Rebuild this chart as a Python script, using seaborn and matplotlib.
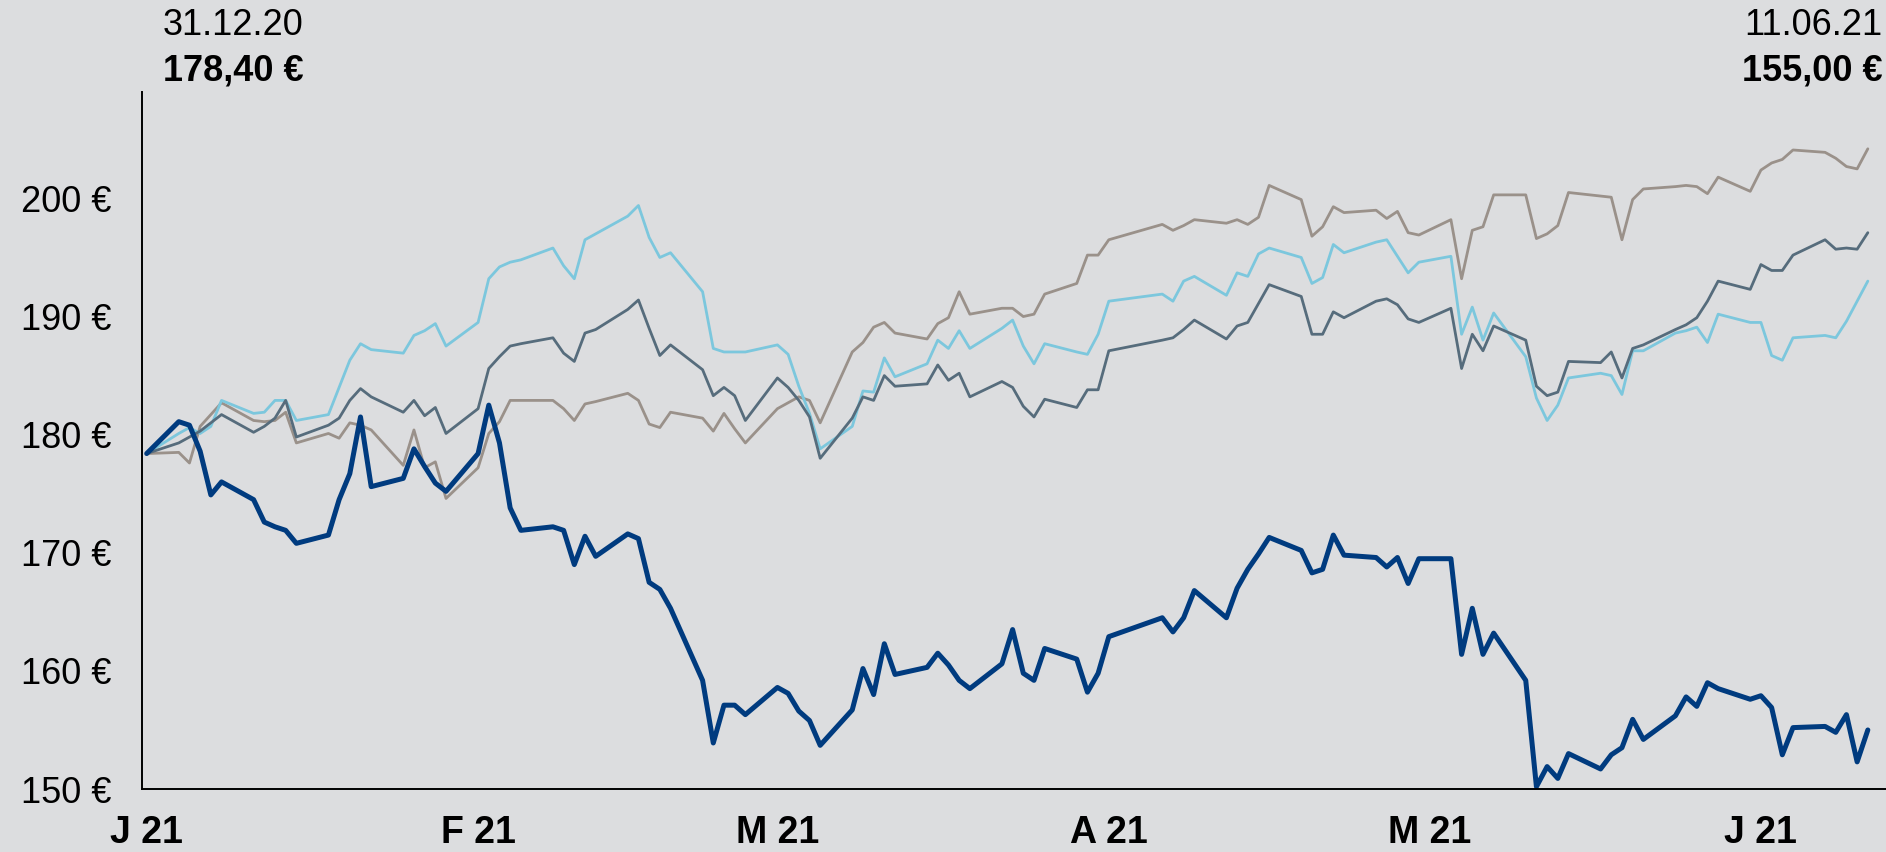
import pandas as pd
import matplotlib.pyplot as plt
import seaborn as sns

# trading days 31.12.20 (plotted at the first January slot) .. 11.06.21, without Easter holidays
dates = pd.bdate_range("2021-01-01", "2021-06-11").drop(pd.to_datetime(["2021-04-02", "2021-04-05"]))

stock = [
    178.4,
    181.1, 180.8, 178.6, 174.9, 176.0,
    174.5, 172.6, 172.2, 171.9, 170.8,
    171.5, 174.5, 176.7, 181.5, 175.6,
    176.3, 178.8, 177.3, 175.9, 175.2,
    178.4, 182.5, 179.3, 173.8, 171.9,
    172.2, 171.9, 169.0, 171.4, 169.7,
    171.6, 171.2, 167.5, 166.9, 165.3,
    159.2, 153.9, 157.1, 157.1, 156.3,
    158.6, 158.1, 156.6, 155.8, 153.7,
    156.7, 160.2, 158.0, 162.3, 159.7,
    160.3, 161.5, 160.5, 159.2, 158.5,
    160.6, 163.5, 159.8, 159.2, 161.9,
    161.0, 158.2, 159.8, 162.9,
    164.5, 163.3, 164.5, 166.8,
    164.5, 167.0, 168.6, 169.9, 171.3,
    170.2, 168.3, 168.6, 171.5, 169.8,
    169.6, 168.8, 169.6, 167.4, 169.5,
    169.5, 161.4, 165.3, 161.4, 163.2,
    159.2, 150.2, 151.9, 150.9, 153.0,
    151.7, 152.9, 153.5, 155.9, 154.2,
    156.2, 157.8, 157.0, 159.0, 158.5,
    157.6, 157.9, 156.9, 152.9, 155.2,
    155.3, 154.8, 156.3, 152.3, 155.0,
]

light = [
    178.4,
    180.1, 180.6, 180.1, 180.7, 182.9,
    181.8, 181.9, 182.9, 182.9, 181.2,
    181.7, 184.0, 186.3, 187.7, 187.2,
    186.9, 188.4, 188.8, 189.4, 187.5,
    189.5, 193.2, 194.2, 194.6, 194.8,
    195.8, 194.3, 193.2, 196.5, 197.0,
    198.5, 199.4, 196.7, 195.0, 195.4,
    192.1, 187.3, 187.0, 187.0, 187.0,
    187.6, 186.8, 184.1, 181.8, 178.8,
    180.7, 183.7, 183.6, 186.5, 184.9,
    186.0, 188.0, 187.3, 188.8, 187.3,
    189.0, 189.7, 187.5, 186.0, 187.7,
    187.0, 186.8, 188.5, 191.3,
    191.9, 191.3, 193.0, 193.4,
    191.8, 193.7, 193.4, 195.3, 195.8,
    195.0, 192.8, 193.3, 196.1, 195.4,
    196.3, 196.5, 195.1, 193.7, 194.6,
    195.1, 188.5, 190.8, 188.0, 190.3,
    186.6, 183.1, 181.2, 182.5, 184.8,
    185.2, 185.0, 183.4, 187.1, 187.1,
    188.6, 188.8, 189.1, 187.8, 190.2,
    189.5, 189.5, 186.7, 186.3, 188.2,
    188.4, 188.2, 189.6, 191.3, 193.0,
]

slate = [
    178.4,
    179.3, 179.8, 180.3, 181.0, 181.7,
    180.2, 180.7, 181.4, 182.9, 179.8,
    180.8, 181.4, 182.9, 183.9, 183.2,
    181.9, 182.9, 181.6, 182.3, 180.1,
    182.2, 185.6, 186.6, 187.5, 187.7,
    188.2, 186.9, 186.2, 188.6, 188.9,
    190.6, 191.4, 189.0, 186.7, 187.6,
    185.5, 183.3, 184.0, 183.3, 181.2,
    184.8, 184.0, 182.9, 181.5, 178.0,
    181.4, 183.2, 182.9, 185.0, 184.1,
    184.3, 185.9, 184.6, 185.2, 183.2,
    184.5, 184.0, 182.4, 181.5, 183.0,
    182.3, 183.8, 183.8, 187.1,
    188.0, 188.2, 188.9, 189.7,
    188.1, 189.2, 189.5, 191.1, 192.7,
    191.7, 188.5, 188.5, 190.4, 189.9,
    191.3, 191.5, 191.0, 189.8, 189.5,
    190.7, 185.6, 188.5, 187.1, 189.2,
    188.0, 184.1, 183.3, 183.6, 186.2,
    186.1, 187.0, 184.8, 187.3, 187.6,
    188.9, 189.3, 189.9, 191.3, 193.0,
    192.3, 194.4, 193.9, 193.9, 195.2,
    196.5, 195.7, 195.8, 195.7, 197.1,
]

taupe = [
    178.4,
    178.5, 177.6, 180.7, 181.7, 182.7,
    181.2, 181.1, 181.2, 181.9, 179.3,
    180.1, 179.7, 181.0, 180.8, 180.4,
    177.4, 180.4, 177.2, 177.7, 174.6,
    177.2, 180.1, 181.1, 182.9, 182.9,
    182.9, 182.2, 181.2, 182.6, 182.8,
    183.5, 182.9, 180.9, 180.6, 181.9,
    181.4, 180.3, 181.8, 180.5, 179.3,
    182.2, 182.7, 183.2, 182.9, 181.0,
    187.0, 187.8, 189.1, 189.5, 188.6,
    188.1, 189.4, 189.9, 192.1, 190.2,
    190.7, 190.7, 190.0, 190.2, 191.9,
    192.8, 195.2, 195.2, 196.5,
    197.8, 197.3, 197.7, 198.2,
    197.9, 198.2, 197.8, 198.4, 201.1,
    199.9, 196.8, 197.6, 199.3, 198.8,
    199.0, 198.3, 198.9, 197.1, 196.9,
    198.2, 193.2, 197.3, 197.6, 200.3,
    200.3, 196.6, 197.0, 197.7, 200.5,
    200.2, 200.1, 196.5, 199.9, 200.8,
    201.0, 201.1, 201.0, 200.4, 201.8,
    200.6, 202.4, 203.0, 203.3, 204.1,
    203.9, 203.4, 202.7, 202.5, 204.2,
]

month_ticks = ["2021-01-01", "2021-02-01", "2021-03-01", "2021-04-01", "2021-05-01", "2021-06-01"]
month_labels = ["J 21", "F 21", "M 21", "A 21", "M 21", "J 21"]
y_ticks = [150, 160, 170, 180, 190, 200]

bg = "#dcdddf"
sns.set_theme(style="white", rc={"axes.facecolor": bg, "figure.facecolor": bg})
plt.rcParams['font.family'] = ['Liberation Sans', 'DejaVu Sans']
plt.rcParams['text.color'] = 'black'
plt.rcParams['xtick.color'] = 'black'
plt.rcParams['ytick.color'] = 'black'

fig = plt.figure(figsize=(18.86, 8.52), dpi=100)
ax = fig.add_axes([0.0753, 0.0739, 0.9247, 0.818])

series = [
    (taupe, "#9a918a", 2.0),
    (light, "#7cc7dd", 2.0),
    (slate, "#566c7c", 2.0),
    (stock, "#003b7f", 3.6),
]
for vals, color, lw in series:
    sns.lineplot(x=dates, y=vals, color=color, linewidth=lw, estimator=None, ax=ax)

start = pd.Timestamp("2021-01-01")
ax.set_xlim(start - pd.Timedelta(hours=10.5), start + pd.Timedelta(days=162.7))
ax.set_ylim(150, 209)

ax.set_xticks(pd.to_datetime(month_ticks))
ax.set_xticklabels(month_labels, fontsize=27, fontweight="bold", color="black")
ax.set_yticks(y_ticks)
ax.set_yticklabels([f"{v} €" for v in y_ticks], fontsize=26, color="black")
ax.tick_params(axis="x", length=0, pad=19)
ax.tick_params(axis="y", length=0, pad=22)
ax.set_xlabel("")
ax.set_ylabel("")

for side in ["top", "right"]:
    ax.spines[side].set_visible(False)
for side in ["left", "bottom"]:
    ax.spines[side].set_color("black")
    ax.spines[side].set_linewidth(1.4)

# first and last price
fig.text(0.0864, 0.959, "31.12.20", fontsize=26, color="black", ha="left", va="baseline")
fig.text(0.0864, 0.906, "178,40 €", fontsize=26, fontweight="bold", color="black", ha="left", va="baseline")
fig.text(0.998, 0.959, "11.06.21", fontsize=26, color="black", ha="right", va="baseline")
fig.text(0.998, 0.906, "155,00 €", fontsize=26, fontweight="bold", color="black", ha="right", va="baseline")

fig.savefig("out.png", dpi=100, facecolor=bg)
